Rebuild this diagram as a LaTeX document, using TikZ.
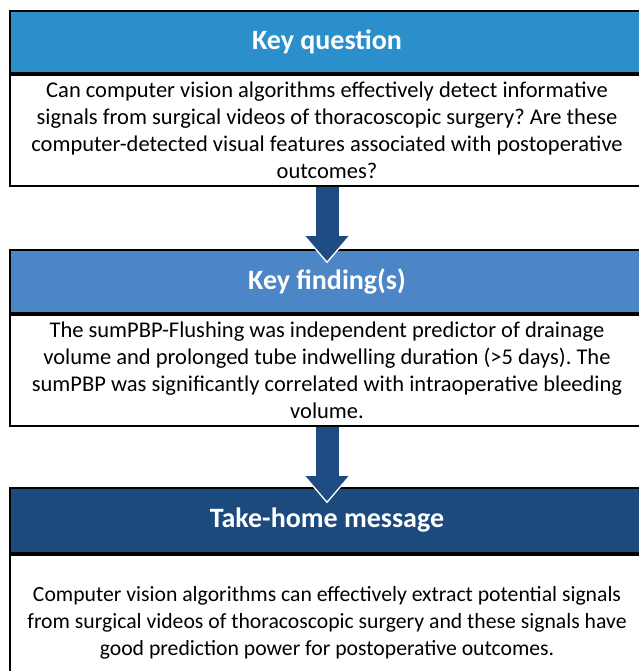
\documentclass[tikz,border=0pt]{standalone}
\usepackage{fontspec}
\setmainfont{Carlito}
\usetikzlibrary{arrows.meta, positioning}
\definecolor{questionblue}{RGB}{42,143,203}
\definecolor{findingblue}{RGB}{76,134,198}
\definecolor{messageblue}{RGB}{28,74,125}
\definecolor{arrowblue}{RGB}{30,76,130}
\frenchspacing
\tikzset{%
	head box/.style={
		draw=black,
		line width=2pt,
		minimum width=634pt,
		text=white,
		font=\fontsize{28}{32}\selectfont\bfseries
	},
	text box/.style={
		draw=black,
		line width=2pt,
		fill=white,
		minimum width=634pt,
		align=center,
		font=\fontsize{22.5}{27}\selectfont
	},
}

\begin{document}
\begin{tikzpicture}[
				arrow halo/.style={line width=23pt, white, shorten >=-2.3pt, -{Triangle[length=28pt, width=48pt, line width=0pt]}},
				arrow main/.style={line width=23pt, arrowblue, -{Triangle[length=25pt, width=43pt, line width=0pt]}}
				]
				\useasboundingbox (0,0) rectangle (638pt,-671pt);
				
				% Boxes
				\node[head box, fill=questionblue, minimum height=62pt, anchor=north] (qhead) at (327pt,-10pt) {Key question};
				\node[text box, minimum height=111pt, below=0pt of qhead] (qbody) {Can computer vision algorithms effectively detect informative\\ signals from surgical videos of thoracoscopic surgery? Are these\\ computer-detected visual features associated with postoperative\\ outcomes?};
				\node[head box, fill=findingblue, minimum height=63pt, below=62pt of qbody] (fhead) {Key finding(s)};
				\node[text box, minimum height=111pt, below=0pt of fhead] (fbody) {The sumPBP-Flushing was independent predictor of drainage\\ volume and prolonged tube indwelling duration (>5 days). The\\ sumPBP was significantly correlated with intraoperative bleeding\\ volume.};
				\node[head box, fill=messageblue, minimum height=65pt, below=60pt of fbody] (thead) {Take-home message};
				\node[text box, minimum height=136pt, font=\fontsize{21.7}{27}\selectfont, below=0pt of thead] (tbody) {Computer vision algorithms can effectively extract potential signals\\ from surgical videos of thoracoscopic surgery and these signals have\\ good prediction power for postoperative outcomes.};
				
				% Arrows
				\coordinate (ftip) at ([yshift=-12pt]fhead.north);
				\coordinate (ttip) at ([yshift=-14pt]thead.north);
				\foreach \from/\to in {qbody/ftip, fbody/ttip} {
					\draw[arrow halo] (\from.south) -- (\to);
					\draw[arrow main] (\from.south) -- (\to);
				}
				
\end{tikzpicture}
\end{document}
